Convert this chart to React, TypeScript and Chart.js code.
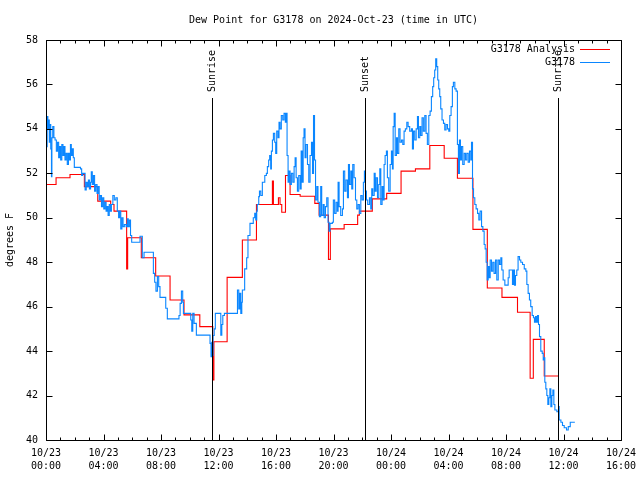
import React, { useEffect, useRef } from 'react';
import { Chart, registerables } from 'chart.js';

Chart.register(...registerables);

const chartTitle = 'Dew Point for G3178 on 2024-Oct-23 (time in UTC)';
const yAxisTitle = 'degrees F';
const seriesNames = ['G3178 Analysis', 'G3178'];

const xTickDates = ['10/23', '10/23', '10/23', '10/23', '10/23', '10/23', '10/24', '10/24', '10/24', '10/24', '10/24'];
const xTickTimes = ['00:00', '04:00', '08:00', '12:00', '16:00', '20:00', '00:00', '04:00', '08:00', '12:00', '16:00'];

const sunHours = [11.55, 22.19, 35.62];
const sunLabels = ['Sunrise', 'Sunset', 'Sunrise'];

// hours since 2024-10-23 00:00 UTC
const analysisHours = [
  0, 0.70, 1.67, 2.67, 3.6, 4.5, 4.73, 5.61, 5.68, 6.63,
  7.63, 8.63, 9.6, 10.7, 11.6, 11.68, 12.6, 13.66, 14.64, 15.75,
  15.82, 16.17, 16.28, 16.4, 16.66, 16.98, 17.68, 18.7, 19.0, 19.65,
  19.78, 20.74, 21.68, 21.8, 22.7, 23.7, 24.7, 25.7, 26.7, 27.7,
  28.62, 29.7, 30.7, 31.72, 32.8, 33.68, 33.9, 34.66, 35.65,
];
const analysisValues = [
  51.5, 51.8, 51.95, 51.4, 50.75, 50.6, 50.3, 47.7, 49.1, 48.2,
  47.38, 46.3, 45.63, 45.1, 42.7, 44.42, 47.32, 49.0, 50.6, 51.65,
  50.6, 50.9, 50.6, 50.25, 51.9, 51.05, 50.97, 50.65, 50.12, 48.13,
  49.5, 49.7, 50.12, 50.3, 50.85, 51.1, 52.1, 52.2, 53.25, 52.68,
  51.78, 49.48, 46.84, 46.42, 45.75, 42.78, 44.53, 42.88, 42.88,
];

const obsHours = [
  0, 0.04, 0.08, 0.13, 0.18, 0.23, 0.28, 0.33, 0.38, 0.41,
  0.47, 0.55, 0.63, 0.72, 0.8, 0.88, 0.95, 1.02, 1.1, 1.18,
  1.25, 1.32, 1.4, 1.48, 1.56, 1.64, 1.7, 1.76, 1.83, 1.9,
  1.97, 2.4, 2.48, 2.55, 2.72, 2.8, 2.88, 2.95, 3.02, 3.1,
  3.15, 3.22, 3.3, 3.38, 3.46, 3.55, 3.62, 3.7, 3.78, 3.86,
  3.94, 4.02, 4.1, 4.18, 4.25, 4.32, 4.4, 4.48, 4.55, 4.65,
  4.75, 4.86, 4.96, 5.05, 5.12, 5.2, 5.28, 5.36, 5.45, 5.57,
  5.65, 5.72, 5.8, 5.88, 5.96,
  6.54, 6.70, 6.82, 7.47, 7.56, 7.65, 7.75, 7.84, 7.93, 8.33,
  8.44, 9.25, 9.33, 9.42, 9.51, 9.56, 10.07, 10.14, 10.21, 10.3,
  10.46, 11.41, 11.48, 11.53, 11.57, 11.62, 11.7, 11.78, 12.16, 12.23,
  12.3, 12.41,
  13.32, 13.41, 13.48, 13.55, 13.62, 13.66, 13.82, 13.96, 14.05, 14.19,
  14.42, 14.52, 14.59, 14.66, 14.7, 14.8, 14.85, 14.94, 15.05, 15.22,
  15.33, 15.4, 15.49, 15.56, 15.63, 15.68, 15.75, 15.82, 15.91, 15.98,
  16.05, 16.14, 16.21, 16.28, 16.37, 16.47, 16.56, 16.65, 16.72, 16.77,
  16.84, 16.91, 16.98, 17.07, 17.17, 17.26, 17.33, 17.4, 17.49, 17.58,
  17.68, 17.75, 17.82, 17.89, 17.95, 18.02, 18.09, 18.19, 18.28, 18.37,
  18.47, 18.54, 18.61, 18.68, 18.75, 18.84, 18.92, 19.02, 19.11, 19.18,
  19.28, 19.35, 19.44, 19.53, 19.62, 19.69, 19.76, 19.92, 19.99,
  20.08, 20.18, 20.27, 20.32, 20.39, 20.5, 20.62, 20.69, 20.78, 20.87,
  20.97, 21.04, 21.11, 21.2, 21.27, 21.34, 21.43, 21.53, 21.62, 21.71,
  21.8, 21.9, 21.99, 22.08, 22.15, 22.22, 22.29, 22.38, 22.5, 22.59,
  22.66, 22.73, 22.83, 22.9, 22.97, 23.06, 23.15, 23.22, 23.29, 23.38,
  23.45, 23.52, 23.59, 23.68, 23.75, 23.84, 23.94, 24.03, 24.1, 24.15,
  24.22, 24.29, 24.38, 24.45, 24.54, 24.63, 24.73, 24.82, 24.91, 25.0,
  25.1,
  25.19, 25.3, 25.42, 25.49, 25.56, 25.65, 25.75, 25.84, 25.91, 26.0,
  26.07, 26.16, 26.25, 26.35, 26.44, 26.53, 26.63, 26.72, 26.81, 26.9,
  26.97, 27.04, 27.11, 27.18, 27.25, 27.32, 27.39, 27.46, 27.55, 27.65,
  27.74, 27.83, 27.93, 28.02, 28.09, 28.18, 28.27, 28.34, 28.44, 28.53,
  28.62, 28.69, 28.76, 28.83, 28.9, 28.99, 29.09, 29.18, 29.27, 29.37,
  29.46, 29.55, 29.6, 29.67, 29.74, 29.83, 29.92, 30.02, 30.11, 30.2,
  30.3, 30.39, 30.48, 30.55, 30.62, 30.69, 30.76, 30.83, 30.9, 30.99,
  31.08, 31.17, 31.27, 31.36,
  31.46, 31.55, 31.64, 31.71, 31.8, 31.92, 32.15, 32.22, 32.33, 32.45,
  32.52, 32.59, 32.66, 32.75, 32.84, 32.94, 33.03, 33.15, 33.27, 33.38,
  33.45, 33.54, 33.63, 33.72, 33.82, 33.91, 33.98, 34.05, 34.12, 34.19,
  34.26, 34.33, 34.42, 34.52, 34.59, 34.66, 34.7, 34.77, 34.84, 34.91,
  34.98, 35.05, 35.12, 35.19, 35.26, 35.33, 35.4, 35.54, 35.66, 35.7,
  35.82, 35.93, 36.05, 36.21, 36.33, 36.47, 36.79,
];
const obsValues = [
  54.0, 53.2, 54.55, 54.0, 54.4, 53.4, 54.2, 53.1, 51.85, 53.6,
  54.1, 53.6, 53.5, 53.0, 53.4, 52.7, 53.2, 52.6, 53.3, 52.8,
  53.2, 52.6, 52.9, 52.4, 52.9, 52.6, 53.3, 52.8, 53.1, 52.7,
  52.27, 52.2, 51.9, 52.0, 51.25, 51.6, 51.4, 51.7, 51.3, 51.6,
  52.07, 51.5, 51.9, 51.2, 51.5, 51.1, 51.4, 50.8, 51.0, 50.5,
  50.9, 50.4, 50.7, 50.3, 50.5, 50.1, 50.6, 50.3, 50.6, 51.0,
  50.8, 50.9, 50.3, 50.0, 50.3, 49.5, 50.0, 49.6, 49.7, 49.6,
  49.95, 49.6, 49.9, 49.2, 48.9,
  49.17, 48.2, 48.45, 47.5, 47.1, 46.7, 47.35, 46.9, 46.42, 45.93,
  45.45, 45.6, 46.15, 46.7, 46.2, 45.7, 45.4, 44.9, 45.7, 45.25,
  44.72, 44.35, 43.75, 44.4, 43.8, 44.7, 45.0, 45.7, 44.72, 45.2,
  45.6, 45.7,
  46.75, 45.9, 46.6, 45.7, 46.2, 46.75, 47.7, 48.2, 49.2, 49.75,
  50.0, 50.2, 49.9, 50.3, 50.6, 50.95, 51.2, 51.0, 51.6, 51.9,
  52.0, 52.3, 52.6, 52.8, 52.2, 53.0, 53.5, 53.8, 53.4, 52.9,
  53.9, 53.6, 54.3, 54.0, 54.6, 54.4, 54.7, 54.3, 54.7, 52.8,
  51.6, 52.1, 51.5, 52.0, 51.6, 52.3, 52.7, 51.8, 51.2, 51.9,
  51.3, 53.0, 51.6, 53.6, 54.0, 52.7, 53.3, 52.4, 51.6, 52.8,
  53.4, 52.0, 54.6, 52.6, 50.8, 51.4, 50.7, 50.05, 51.4, 50.1,
  50.6, 50.0, 50.5, 50.9, 49.8, 49.4, 49.75, 49.8, 50.8,
  50.2, 50.7, 50.3, 51.6, 50.5, 50.1, 50.4, 52.1, 51.2, 51.7,
  50.9, 52.4, 51.5, 52.1, 51.3, 52.4, 51.8, 50.8, 50.4, 50.6,
  50.2, 51.0, 50.8, 51.6, 52.1, 51.2, 50.8, 50.6, 50.9, 50.4,
  51.3, 51.0, 52.0, 51.2, 51.8, 50.9, 51.5, 52.2, 50.6, 51.4,
  50.8, 52.4, 52.8, 53.0, 51.8, 51.2, 52.4, 53.0, 52.2, 54.1,
  54.7, 52.8, 53.6, 52.9, 54.0, 53.4, 53.5, 53.3, 53.9, 54.0,
  54.3,
  54.1, 53.9, 54.0, 53.1, 53.9, 53.5, 54.0, 54.55, 53.6, 54.1,
  53.7, 54.5, 53.9, 54.6, 53.8, 53.3, 54.6, 54.8, 55.45, 55.9,
  56.3, 56.65, 57.15, 56.8, 56.2, 55.8, 55.45, 54.9, 54.4, 54.25,
  53.95, 54.2, 54.0, 53.9, 54.6, 55.0, 55.9, 56.1, 55.8, 55.7,
  53.3, 52.0, 53.5, 52.6, 53.2, 52.4, 52.9, 52.6, 52.9, 52.5,
  53.0, 52.6, 53.4, 51.3, 50.9, 50.6, 50.4, 50.2, 49.9, 50.3,
  49.6, 49.4, 48.8, 48.6, 48.0, 47.2, 47.8, 47.3, 48.1, 47.6,
  48.0, 47.5, 48.1, 47.2,
  48.1, 47.9, 48.2, 47.65, 47.2, 46.97, 47.3, 47.65, 47.65, 47.0,
  47.65, 46.97, 47.4, 47.65, 48.25, 48.1, 48.0, 47.9, 47.7, 47.6,
  47.0, 46.6, 46.3, 46.0, 45.6, 45.5, 45.3, 45.55, 45.3, 45.6,
  45.2, 44.65, 44.0, 43.9, 43.6, 43.7, 42.6, 42.3, 42.0, 41.6,
  41.9, 42.3, 41.5, 42.0, 42.25, 41.6, 41.35, 41.27, 41.5, 40.9,
  40.8, 40.65, 40.55, 40.45, 40.6, 40.8, 40.8,
];

const RED = '#ff0000';
const BLUE = '#0a86ff';
const FONT_FAMILY = "'DejaVu Sans Mono', monospace";
const FONT = `10px ${FONT_FAMILY}`;

const overlayPlugin = {
  id: 'gnuplotOverlay',
  afterDatasetsDraw(chart: any) {
    const { ctx, chartArea: a, scales } = chart;
    const xs = scales.x;
    const ys = scales.y;
    ctx.save();
    ctx.strokeStyle = '#000';
    ctx.fillStyle = '#000';
    ctx.lineWidth = 1;
    ctx.font = FONT;

    // sun event lines and labels
    sunHours.forEach((h, i) => {
      const px = Math.round(xs.getPixelForValue(h)) + 0.5;
      ctx.beginPath();
      ctx.moveTo(px, a.top + 58);
      ctx.lineTo(px, a.bottom);
      ctx.stroke();
      ctx.save();
      ctx.translate(px, a.top + 52);
      ctx.rotate(-Math.PI / 2);
      ctx.textAlign = 'left';
      ctx.textBaseline = 'middle';
      ctx.fillText(sunLabels[i], 0, 0);
      ctx.restore();
    });

    // border
    const L = Math.round(a.left) + 0.5;
    const R = Math.round(a.right) + 0.5;
    const T = Math.round(a.top) + 0.5;
    const B = Math.round(a.bottom) + 0.5;
    ctx.beginPath();
    ctx.rect(L, T, R - L, B - T);
    ctx.stroke();

    // ticks (inside, mirrored)
    ctx.beginPath();
    for (let h = xs.min; h <= xs.max; h += 1) {
      const px = Math.round(xs.getPixelForValue(h)) + 0.5;
      ctx.moveTo(px, B); ctx.lineTo(px, B - 3);
      ctx.moveTo(px, T); ctx.lineTo(px, T + 3);
    }
    xs.ticks.forEach((t: any) => {
      const px = Math.round(xs.getPixelForValue(t.value)) + 0.5;
      ctx.moveTo(px, B); ctx.lineTo(px, B - 6);
      ctx.moveTo(px, T); ctx.lineTo(px, T + 6);
    });
    ys.ticks.forEach((t: any) => {
      const py = Math.round(ys.getPixelForValue(t.value)) + 0.5;
      ctx.moveTo(L, py); ctx.lineTo(L + 6, py);
      ctx.moveTo(R, py); ctx.lineTo(R - 6, py);
    });
    ctx.stroke();

    // legend
    const colors = [RED, BLUE];
    const rowY = [a.top + 9, a.top + 22];
    seriesNames.forEach((name, i) => {
      ctx.fillStyle = '#000';
      ctx.textAlign = 'right';
      ctx.textBaseline = 'middle';
      ctx.fillText(name, a.right - 46, rowY[i]);
      ctx.strokeStyle = colors[i];
      ctx.beginPath();
      ctx.moveTo(a.right - 41, Math.round(rowY[i]) + 0.5);
      ctx.lineTo(a.right - 11, Math.round(rowY[i]) + 0.5);
      ctx.stroke();
    });

    // title
    ctx.fillStyle = '#000';
    ctx.textAlign = 'center';
    ctx.textBaseline = 'middle';
    ctx.fillText(chartTitle, (a.left + a.right) / 2, 20);

    // y axis title
    ctx.save();
    ctx.translate(10, (a.top + a.bottom) / 2);
    ctx.rotate(-Math.PI / 2);
    ctx.textAlign = 'center';
    ctx.textBaseline = 'middle';
    ctx.fillText(yAxisTitle, 0, 0);
    ctx.restore();

    ctx.restore();
  },
};

export default function App() {
  const canvasRef = useRef<HTMLCanvasElement | null>(null);

  useEffect(() => {
    const canvas = canvasRef.current;
    if (!canvas) return;
    const chart = new Chart(canvas, {
      type: 'line',
      data: {
        datasets: [
          {
            label: seriesNames[1],
            data: obsHours.map((h, i) => ({ x: h, y: obsValues[i] })),
            borderColor: BLUE,
            borderWidth: 1.1,
            pointRadius: 0,
            stepped: true,
            fill: false,
          },
          {
            label: seriesNames[0],
            data: analysisHours.map((h, i) => ({ x: h, y: analysisValues[i] })),
            borderColor: RED,
            borderWidth: 1.1,
            pointRadius: 0,
            stepped: true,
            fill: false,
          },
        ],
      },
      options: {
        animation: false,
        responsive: false,
        devicePixelRatio: 1,
        layout: { padding: { left: 0, top: 40, right: 19, bottom: 0 } },
        plugins: {
          legend: { display: false },
          title: { display: false },
          tooltip: { enabled: false },
        },
        scales: {
          x: {
            type: 'linear',
            min: 0,
            max: 40,
            grid: { display: false, drawTicks: false, tickLength: 0 },
            border: { display: false },
            ticks: {
              stepSize: 4,
              autoSkip: false,
              maxRotation: 0,
              minRotation: 0,
              padding: 7,
              color: '#000',
              font: { family: FONT_FAMILY, size: 10, lineHeight: 1.3 },
              callback: (_v: any, i: number) => [xTickDates[i], xTickTimes[i]],
            },
            afterFit: (s: any) => { s.height = 40; s.paddingLeft = 0; s.paddingRight = 0; },
          },
          y: {
            type: 'linear',
            min: 40,
            max: 58,
            grid: { display: false, drawTicks: false, tickLength: 0 },
            border: { display: false },
            ticks: {
              stepSize: 2,
              padding: 8,
              color: '#000',
              font: { family: FONT_FAMILY, size: 10 },
            },
            afterFit: (s: any) => { s.width = 46; s.paddingTop = 0; s.paddingBottom = 0; },
          },
        },
      },
      plugins: [overlayPlugin],
    } as any);
    return () => chart.destroy();
  }, []);

  return (
    <div style={{ position: 'fixed', left: 0, top: 0, width: 640, height: 480, background: '#fff' }}>
      <canvas ref={canvasRef} width={640} height={480} style={{ display: 'block' }} />
    </div>
  );
}
